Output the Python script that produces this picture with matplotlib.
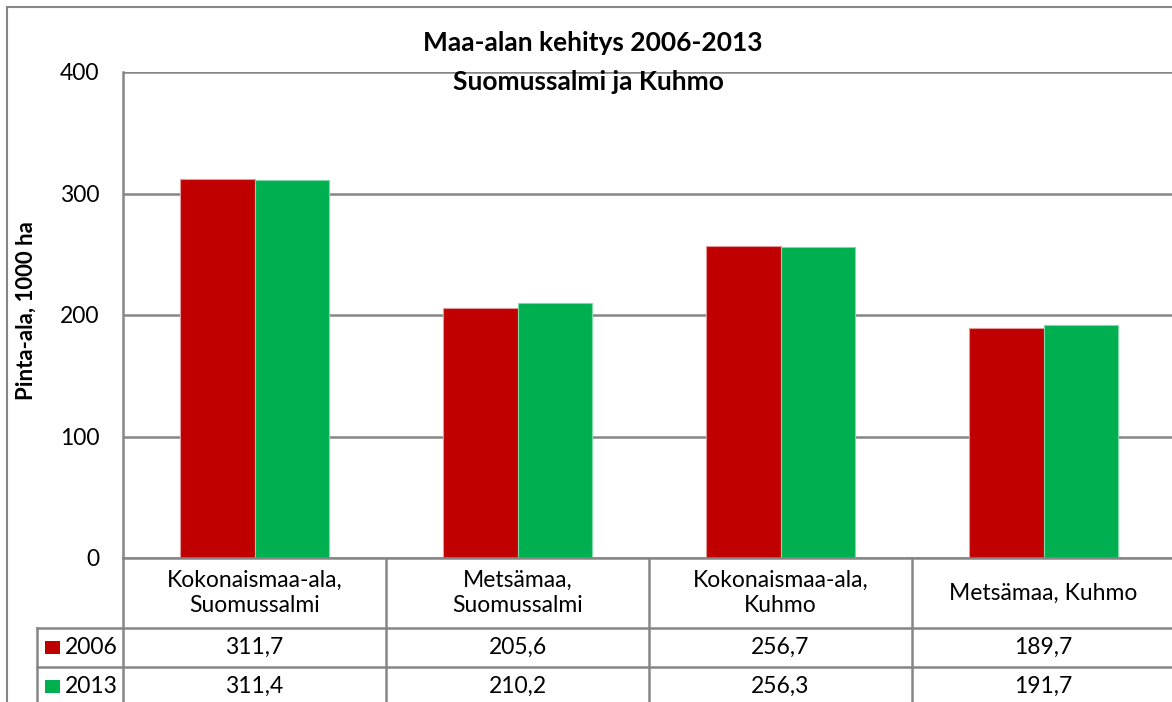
import matplotlib.pyplot as plt
from matplotlib.lines import Line2D
from matplotlib.patches import Rectangle
import numpy as np

# Data
categories = ["Kokonaismaa-ala,\nSuomussalmi", "Metsämaa,\nSuomussalmi",
              "Kokonaismaa-ala,\nKuhmo", "Metsämaa, Kuhmo"]
years = ["2006", "2013"]
vals_2006 = [311.7, 205.6, 256.7, 189.7]
vals_2013 = [311.4, 210.2, 256.3, 191.7]
labels_2006 = ["311,7", "205,6", "256,7", "189,7"]
labels_2013 = ["311,4", "210,2", "256,3", "191,7"]
yticks = [0, 100, 200, 300, 400]

RED = "#C00000"
GREEN = "#00B050"
GRID = "#868686"

plt.rcParams["font.family"] = ["Lato", "DejaVu Sans"]

W, H = 1172, 702
fig = plt.figure(figsize=(W / 100, H / 100), dpi=100)

# pixel helpers (origin top-left)
def fx(px):
    return px / W

def fy(py):
    return 1 - py / H

ax_l, ax_r, ax_t, ax_b = 123, 1175, 72, 558
ax = fig.add_axes([fx(ax_l), fy(ax_b), fx(ax_r - ax_l), (ax_b - ax_t) / H])

x = np.arange(len(categories))
bw = 0.283
ax.bar(x - bw / 2, vals_2006, bw, color=RED, edgecolor="#E39A9A", linewidth=0.8, zorder=3)
ax.bar(x + bw / 2, vals_2013, bw, color=GREEN, edgecolor="#7FD9A7", linewidth=0.8, zorder=3)

ax.set_xlim(-0.5, len(categories) - 0.5)
ax.set_ylim(0, 400)
ax.set_yticks(yticks)
ax.set_yticklabels([str(t) for t in yticks], fontsize=16.5)
ax.set_xticks([])
ax.tick_params(axis="y", length=0, pad=17)
ax.yaxis.grid(True, color=GRID, linewidth=1.8, zorder=0)
ax.set_axisbelow(True)
for s in ["top", "right", "bottom"]:
    ax.spines[s].set_visible(False)
ax.spines["left"].set_color(GRID)
ax.spines["left"].set_linewidth(1.8)

# y label
fig.text(fx(26), fy(311), "Pinta-ala, 1000 ha", rotation=90, ha="center", va="center",
         fontsize=16, fontweight="bold")

# Title
fig.text(fx(593), fy(43), "Maa-alan kehitys 2006-2013", ha="center", va="center",
         fontsize=19, fontweight="bold")
fig.text(fx(588), fy(82), "Suomussalmi ja Kuhmo", ha="center", va="center",
         fontsize=19, fontweight="bold")

# Outer chart frame (cropped at right/bottom)
fig.add_artist(Rectangle((fx(7), fy(H + 50)), 2, fy(7) - fy(H + 50),
                         fill=False, edgecolor=GRID, linewidth=1.5,
                         transform=fig.transFigure, clip_on=False))

# Data table
row_y = [558, 628, 667, 706]
key_l = 37
tr = ax.get_xaxis_transform()

def ay(py):
    return (ax_b - py) / (ax_b - ax_t)

# horizontal lines
fig.add_artist(Line2D([fx(ax_l), fx(ax_r)], [fy(row_y[0])] * 2, color=GRID, lw=1.8))
for py in row_y[1:]:
    fig.add_artist(Line2D([fx(key_l), fx(ax_r)], [fy(py)] * 2, color=GRID, lw=1.8))
# vertical lines
fig.add_artist(Line2D([fx(ax_l)] * 2, [fy(row_y[0]), fy(H + 10)], color=GRID, lw=1.8))
fig.add_artist(Line2D([fx(key_l)] * 2, [fy(row_y[1]), fy(H + 10)], color=GRID, lw=1.8))
for i in range(1, len(categories)):
    ax.add_line(Line2D([i - 0.5, i - 0.5], [ay(row_y[0]), ay(H + 10)], color=GRID,
                       lw=1.8, transform=tr, clip_on=False))

# header + values
for i, cat in enumerate(categories):
    ax.text(i, ay((row_y[0] + row_y[1]) / 2), cat, transform=tr, ha="center",
            va="center", fontsize=16.5, linespacing=1.22)
    ax.text(i, ay((row_y[1] + row_y[2]) / 2), labels_2006[i], transform=tr,
            ha="center", va="center", fontsize=16.5)
    ax.text(i, ay((row_y[2] + row_y[3]) / 2), labels_2013[i], transform=tr,
            ha="center", va="center", fontsize=16.5)

# legend keys in row headers
for k, (yr, col) in enumerate(zip(years, [RED, GREEN])):
    cy = (row_y[k + 1] + row_y[k + 2]) / 2
    fig.add_artist(Rectangle((fx(45), fy(cy + 6.5)), fx(15), 13 / H,
                             facecolor=col, edgecolor="none"))
    fig.text(fx(65), fy(cy), yr, ha="left", va="center", fontsize=16.5)

fig.savefig("out.png", dpi=100)
